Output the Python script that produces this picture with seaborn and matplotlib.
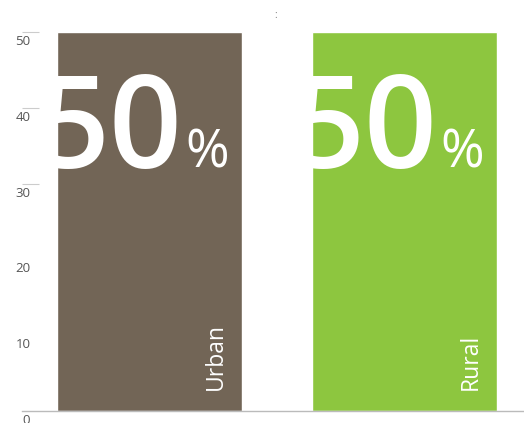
import matplotlib
matplotlib.use("Agg")
import matplotlib.pyplot as plt
import matplotlib.transforms as mtrans
import seaborn as sb
import pandas as pd

categories = ["Urban", "Rural"]
values = [50, 50]
bar_colors = ["#726556", "#8dc63f"]
yticks = [0, 10, 20, 30, 40, 50]

sb.set_style("white")
plt.rcParams['font.family'] = ['Open Sans', 'DejaVu Sans']

df = pd.DataFrame({"area": categories, "share": values})

fig = plt.figure(figsize=(5.24, 4.23), dpi=100)
ax = fig.add_axes([22/524, 12/423, 502/524, 379/423])
sb.barplot(data=df, x="area", y="share", hue="area", palette=bar_colors,
           width=0.725, saturation=1, legend=False, ax=ax)

ax.set_xlim(-0.5, 1.47)
ax.set_ylim(0, 50)
ax.set_yticks(yticks)
ax.set_xticks([])
ax.set_xlabel("")
ax.set_ylabel("")
for s in ["top", "right", "left"]:
	ax.spines[s].set_visible(False)
ax.spines["bottom"].set_color("#bbbbbb")
ax.spines["bottom"].set_linewidth(1)

ax.tick_params(axis="y", direction="in", length=12, width=0.8, color="#cccccc",
               labelsize=9.5, labelcolor="#555555", pad=-6, left=True)
for t in ax.yaxis.get_major_ticks()[:3]:
	t.tick1line.set_visible(False)
shift = mtrans.ScaledTranslation(0, -8/100, fig.dpi_scale_trans)
for lab in ax.get_yticklabels():
	lab.set_transform(lab.get_transform() + shift)

# big labels inside the bars
px = 1/255.0  # data units per pixel along x
py = 50/379.0
for i, (cat, val) in enumerate(zip(categories, values)):
	right = i + 0.725/2
	ax.text(right - 59*px, 32.1, "{}".format(val), color="white", fontsize=92,
	        fontweight="semibold", ha="right", va="baseline")
	ax.text(right - 56*px, 32.1, "%", color="white", fontsize=38,
	        ha="left", va="baseline")
	ax.text(right - 20*px, 21*py, cat, color="white", fontsize=16.5,
	        rotation=90, rotation_mode="anchor", ha="left", va="baseline")

fig.text(276/524, 1 - 16/423, ":", fontsize=7, color="#777777", ha="center", va="center")

fig.savefig("out.png", dpi=100)
